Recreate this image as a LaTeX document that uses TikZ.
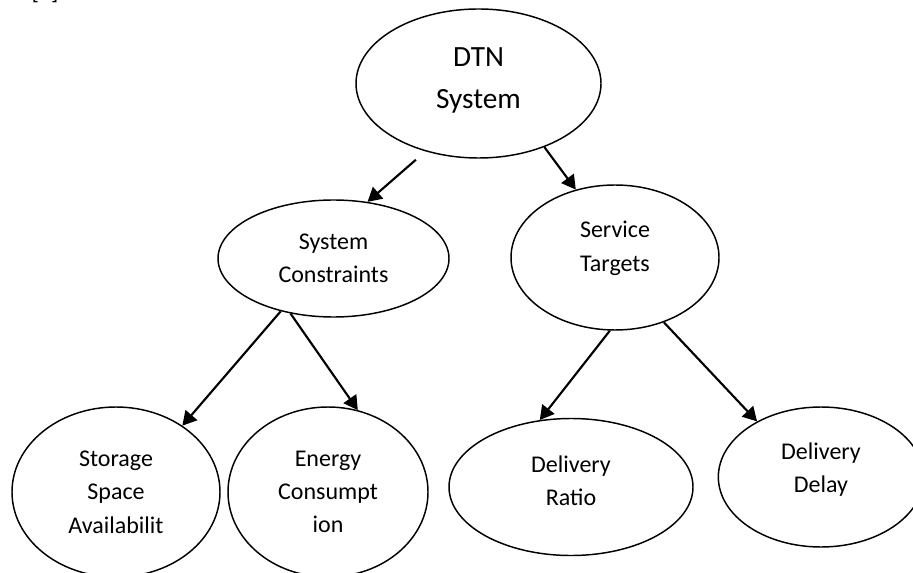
\documentclass[tikz,border=0pt]{standalone}
\usepackage{fontspec}
\setmainfont{Carlito}
\usetikzlibrary{shapes.geometric,arrows.meta}
\tikzset{
  bubble/.style={draw, ellipse, line width=1.1pt, inner sep=0pt},
  words/.style={align=center, font=\fontsize{18}{25}\selectfont},
  link/.style={-{Triangle[length=10.5pt,width=11.5pt]}, line width=1.6pt}
}
\begin{document}
\begin{tikzpicture}[x=0.75pt,y=0.75pt]

            \clip (0,0) rectangle (913,-573);
            \node[words, anchor=base west] (ref) at (27,0.5) {[2]};

            % top
            \node[bubble, minimum width=183.75pt, minimum height=111.75pt] (dtn) at (478.5,-83.5) {};
            \node[words, font=\fontsize{22}{31.5}\selectfont] (dtn-t) at ([yshift=2pt]dtn) {DTN\\System};

            % middle
            \node[bubble, minimum width=173.25pt, minimum height=87.75pt] (sc) at (333.5,-258.5) {};
            \node[words] (sc-t) at (sc) {System\\Constraints};
            \node[bubble, minimum width=156pt, minimum height=108.75pt] (st) at (615,-257.5) {};
            \node[words] (st-t) at ([yshift=7pt]st) {Service\\Targets};

            % bottom
            \node[bubble, minimum width=156pt, minimum height=127.5pt] (ss) at (116,-492) {};
            \node[words] (ss-t) at (ss) {Storage\\Space\\Availabilit};
            \node[bubble, minimum width=150pt, minimum height=127.5pt] (ec) at (328,-492) {};
            \node[words] (ec-t) at (ec) {Energy\\Consumpt\\ion};
            \node[bubble, minimum width=183pt, minimum height=102.75pt] (dr) at (571,-487) {};
            \node[words] (dr-t) at ([yshift=4.5pt]dr) {Delivery\\Ratio};
            \node[bubble, minimum width=154pt, minimum height=105pt] (dd) at (821,-477) {};
            \node[words] (dd-t) at ([yshift=5.5pt]dd) {Delivery\\Delay};

            \draw[link, shorten <=9.5pt] (dtn.232) -- (sc.59);
            \draw[link] (dtn.316) -- (st.120);
            \draw[link] (sc.225) -- (ss.45);
            \draw[link] (sc.232) -- (ec.70);
            \draw[link] (st.266) -- (dr.115);
            \draw[link] (st.307) -- (dd.139);
        \end{tikzpicture}
\end{document}
